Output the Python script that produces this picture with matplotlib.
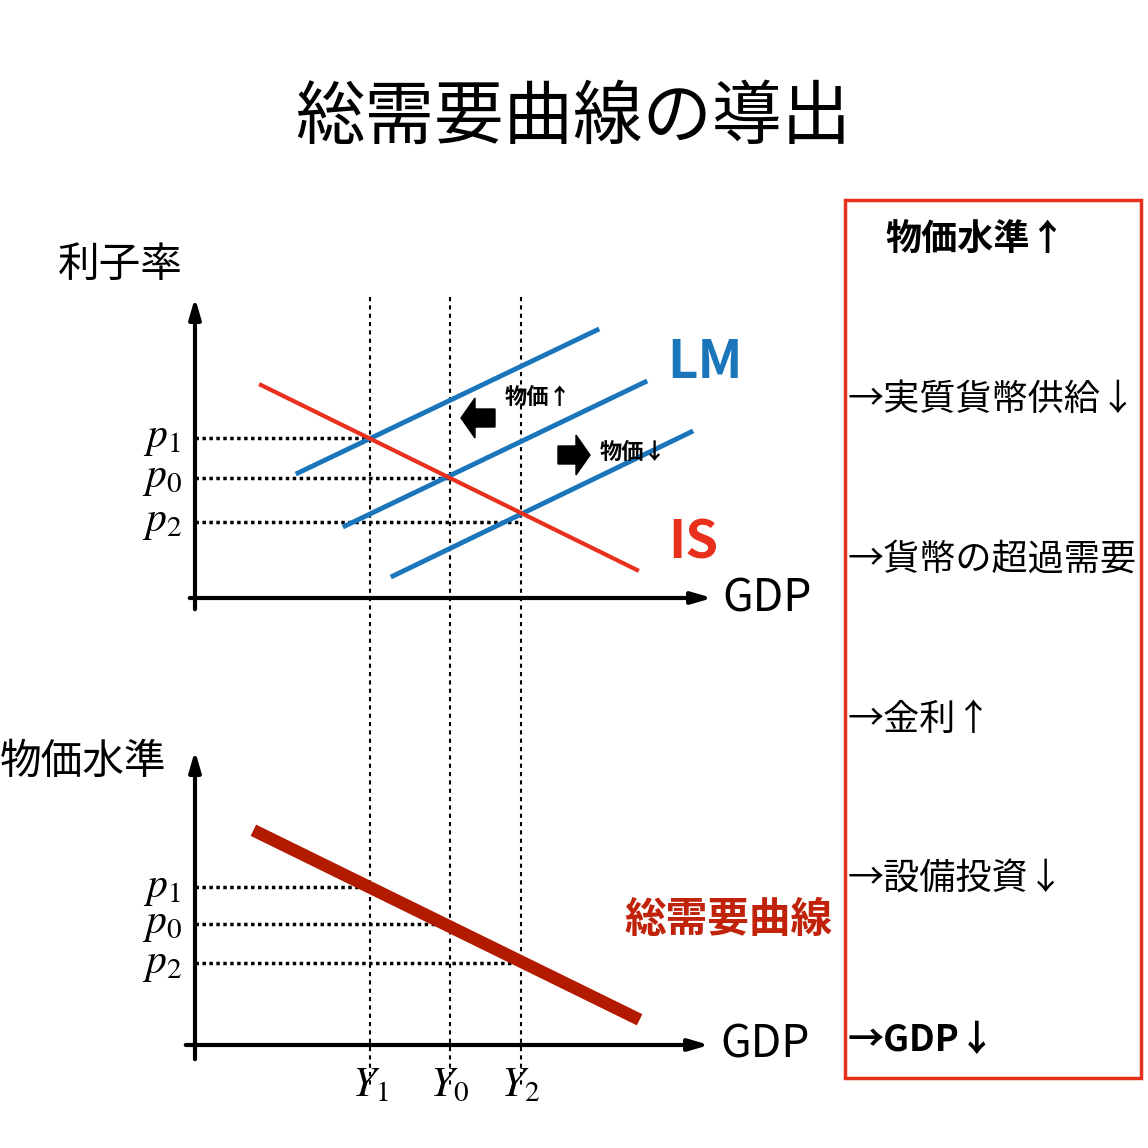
import matplotlib
matplotlib.use("Agg")
import matplotlib.pyplot as plt
from matplotlib.patches import Rectangle, FancyArrow

plt.rcParams['font.family'] = ['Noto Sans CJK JP', 'DejaVu Sans']
plt.rcParams['mathtext.fontset'] = 'stix'

# Data (diagram coordinates, canvas units)
lm_x = [[298, 597], [345, 645], [393, 691]]
lm_y = [[473, 330], [526, 382], [576, 432]]
is_x = [261, 637]
is_y = [385, 570]
ad_x = [259, 634]
ad_y = [833, 1017]
eq_x = [370, 450, 521]
top_p = [438, 478, 522]
bot_p = [887, 924, 963]
p_labels = ['$p_1$', '$p_0$', '$p_2$']
y_labels = ['$Y_1$', '$Y_0$', '$Y_2$']
steps = ['物価水準↑', '→実質貨幣供給↓', '→貨幣の超過需要', '→金利↑', '→設備投資↓', '→GDP↓']
step_y = [240, 400, 560, 720, 880, 1040]

blue = '#1a75bb'; red = '#e8301c'; dred = '#b31b00'

fig = plt.figure(figsize=(11.48, 11.48), dpi=100)
ax = fig.add_axes([0, 0, 1, 1])
ax.set_xlim(0, 1148); ax.set_ylim(1148, 0); ax.axis('off')

ax.text(573, 118, '総需要曲線の導出', fontsize=50, ha='center', va='center')

def arr(x0, y0, x1, y1):
    ax.annotate('', xy=(x1, y1), xytext=(x0, y0),
                arrowprops=dict(arrowstyle='-|>,head_length=1.2,head_width=0.35', lw=3, color='black'))
arr(187, 598, 715, 598); arr(195, 612, 195, 295)
arr(183, 1045, 712, 1045); arr(195, 1062, 195, 748)

for x in eq_x:
    ax.plot([x, x], [297, 1085], ls=(0, (2, 2)), color='black', lw=1.5)
for i in range(3):
    ax.plot([195, eq_x[i]], [top_p[i]] * 2, ls=(0, (1, 1)), color='black', lw=2.5)
    ax.plot([195, eq_x[i]], [bot_p[i]] * 2, ls=(0, (1, 1)), color='black', lw=2.5)
    ax.text(162, top_p[i], p_labels[i], fontsize=30, ha='center', va='center')
    ax.text(162, bot_p[i], p_labels[i], fontsize=30, ha='center', va='center')
    ax.text(eq_x[i], 1085, y_labels[i], fontsize=30, ha='center', va='center')

for xs, ys in zip(lm_x, lm_y):
    ax.plot(xs, ys, color=blue, lw=3.5)
ax.plot(is_x, is_y, color=red, lw=3)
ax.plot(ad_x, ad_y, color=dred, lw=9)

ax.add_patch(FancyArrow(495, 418, -20, 0, width=18, head_width=40, head_length=14, color='black'))
ax.add_patch(FancyArrow(558, 455, 18, 0, width=18, head_width=40, head_length=14, color='black'))
ax.text(505, 397, '物価↑', fontsize=16, fontweight='bold', va='center')
ax.text(600, 452, '物価↓', fontsize=16, fontweight='bold', va='center')

ax.text(705, 362, 'LM', fontsize=38, fontweight='bold', color=blue, ha='center', va='center')
ax.text(693, 543, 'IS', fontsize=38, fontweight='bold', color=red, ha='center', va='center')
ax.text(767, 598, 'GDP', fontsize=32, ha='center', va='center')
ax.text(765, 1045, 'GDP', fontsize=32, ha='center', va='center')
ax.text(120, 265, '利子率', fontsize=30, ha='center', va='center')
ax.text(83, 762, '物価水準', fontsize=30, ha='center', va='center')
ax.text(728, 920, '総需要曲線', fontsize=30, fontweight='bold', color='#c0220a', ha='center', va='center')

ax.add_patch(Rectangle((845, 200), 296, 878, fill=False, ec=red, lw=2.5))
for i, (s, y) in enumerate(zip(steps, step_y)):
    bold = i in (0, 5)
    ax.text(885 if i == 0 else 848, y, s, fontsize=26, va='center',
            fontweight='bold' if bold else 'normal')

fig.savefig('out.png', dpi=100)
